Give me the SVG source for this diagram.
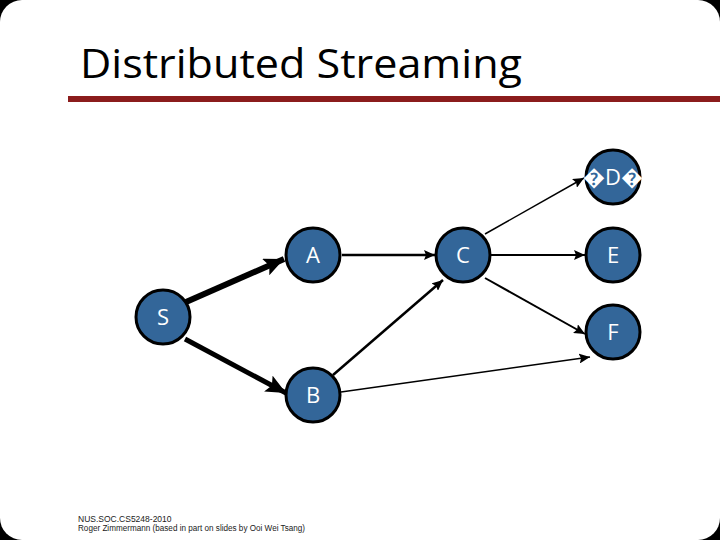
<svg xmlns="http://www.w3.org/2000/svg" width="720" height="540" viewBox="0 0 720 540">
<style>
.node circle{fill:#336699;stroke:#000;stroke-width:3}
.node text{fill:#fff;font-family:"Open Sans","DejaVu Sans",sans-serif;font-size:22px;text-anchor:middle}
.e{stroke:#000;fill:none}
.foot{font-family:"Liberation Sans",Arial,sans-serif;font-size:8.5px;fill:#1a1a1a}
</style>
<defs>
<marker id="big" markerUnits="userSpaceOnUse" markerWidth="22" markerHeight="18" refX="20" refY="9" orient="auto"><path d="M0,0 L20,9 L0,18 L4,9 Z" fill="#000"/></marker>
<marker id="small" markerUnits="userSpaceOnUse" markerWidth="12" markerHeight="10" refX="11" refY="5" orient="auto"><path d="M0,0 L11,5 L0,10 L2,5 Z" fill="#000"/></marker>
</defs>
<rect x="0" y="0" width="720" height="540" fill="#000"/>
<rect x="0" y="0" width="720" height="540" rx="22" ry="22" fill="#fff"/>
<text x="80" y="78" font-family="Open Sans,Liberation Sans,sans-serif" font-size="41" fill="#000" textLength="442" lengthAdjust="spacingAndGlyphs">Distributed Streaming</text>
<rect x="68" y="96" width="652" height="6" fill="#8b1c1c"/>
<g id="connectors">
<line class="e" x1="186" y1="302" x2="284" y2="259" stroke-width="6" marker-end="url(#big)"/>
<line class="e" x1="185" y1="339" x2="286" y2="393" stroke-width="5" marker-end="url(#big)"/>
<line class="e" x1="342" y1="255" x2="435" y2="255" stroke-width="2.5" marker-end="url(#small)"/>
<line class="e" x1="333" y1="375" x2="443" y2="280" stroke-width="2.5" marker-end="url(#small)"/>
<line class="e" x1="485" y1="234" x2="584" y2="178" stroke-width="1.5" marker-end="url(#small)"/>
<line class="e" x1="491" y1="255" x2="585" y2="255" stroke-width="2" marker-end="url(#small)"/>
<line class="e" x1="485" y1="278" x2="585" y2="334" stroke-width="2" marker-end="url(#small)"/>
<line class="e" x1="341" y1="392" x2="590" y2="357" stroke-width="1.5" marker-end="url(#small)"/>
</g>
<g id="node-S" class="node"><circle cx="163" cy="317" r="27"/><text x="163" y="325">S</text></g>
<g id="node-A" class="node"><circle cx="313" cy="255" r="27"/><text x="313" y="263">A</text></g>
<g id="node-B" class="node"><circle cx="313" cy="395" r="27"/><text x="313" y="403">B</text></g>
<g id="node-C" class="node"><circle cx="463" cy="255" r="27"/><text x="463" y="263">C</text></g>
<g id="node-D" class="node"><circle cx="613" cy="177" r="27"/><text x="613" y="185">�D�</text></g>
<g id="node-E" class="node"><circle cx="613" cy="255" r="27"/><text x="613" y="263">E</text></g>
<g id="node-F" class="node"><circle cx="613" cy="332" r="27"/><text x="613" y="340">F</text></g>
<text class="foot" x="78" y="522">NUS.SOC.CS5248-2010</text>
<text class="foot" x="78" y="531" textLength="227" lengthAdjust="spacingAndGlyphs">Roger Zimmermann (based in part on slides by Ooi Wei Tsang)</text>
</svg>
